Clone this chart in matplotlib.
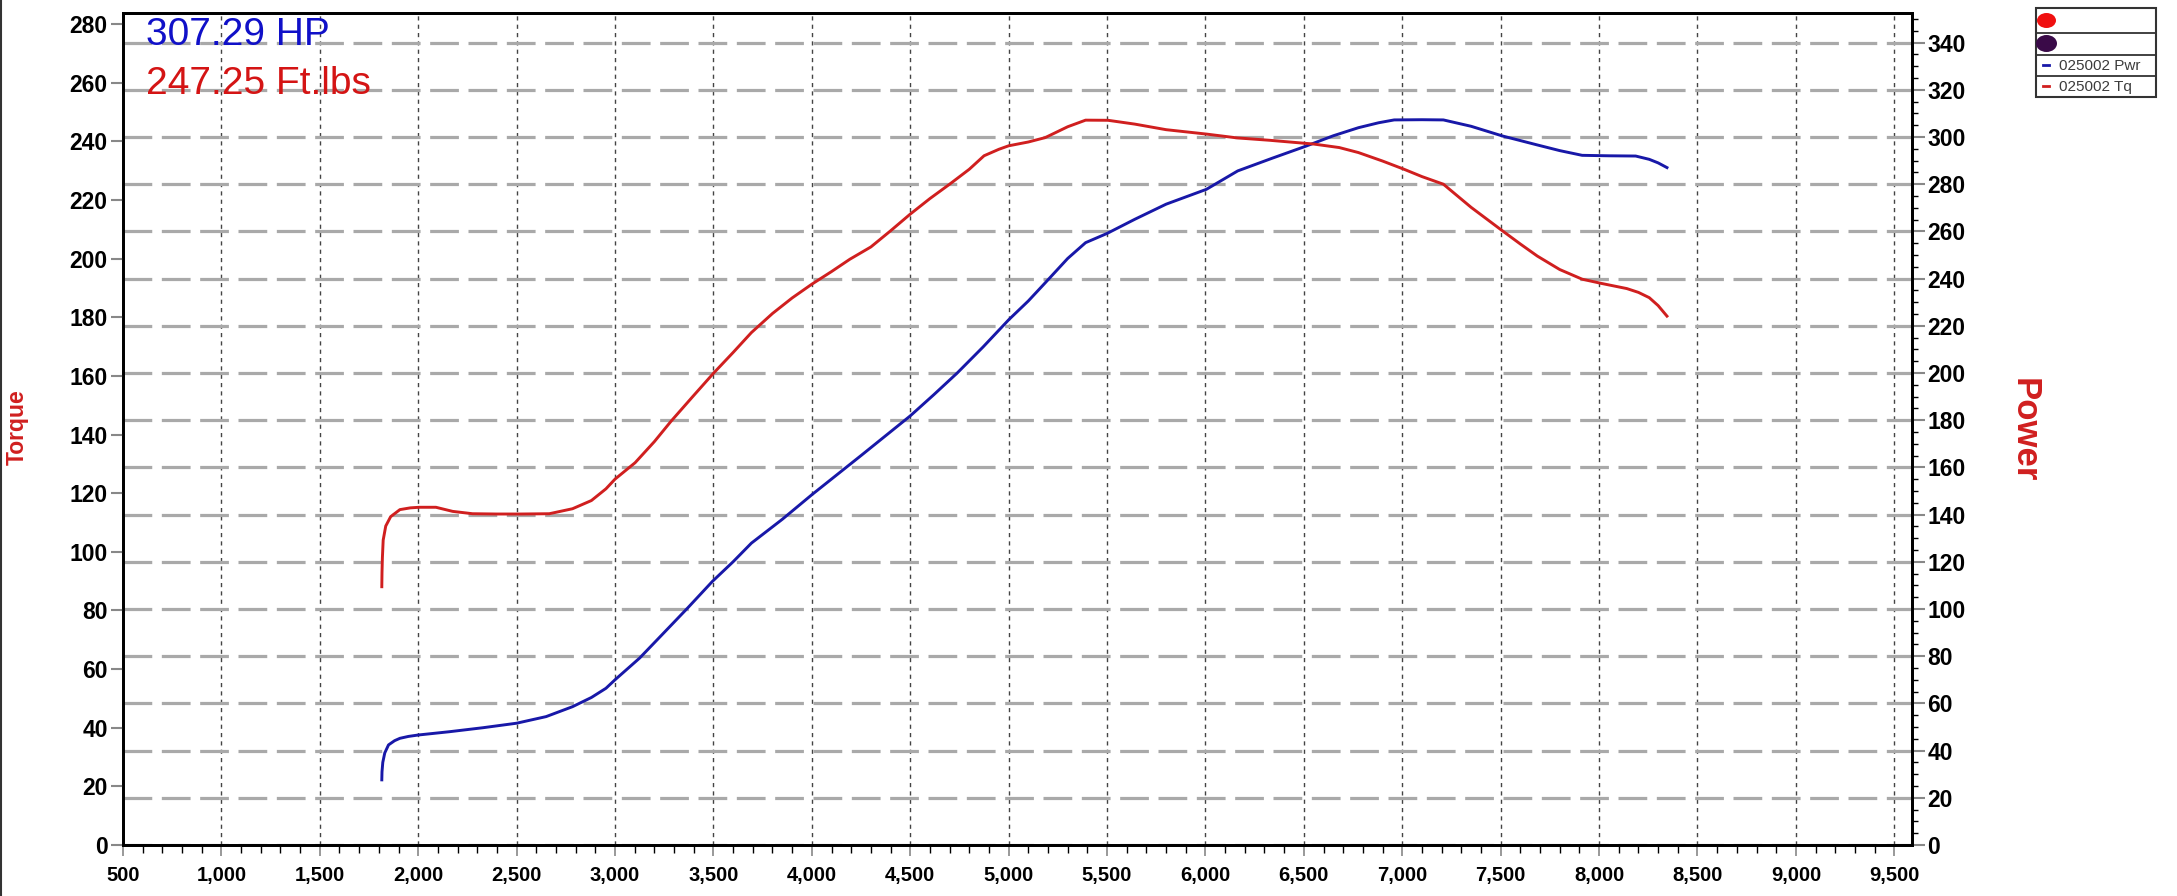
import matplotlib
matplotlib.use("Agg")
import matplotlib.pyplot as plt
from matplotlib.ticker import MultipleLocator, FuncFormatter
from matplotlib.patches import Rectangle, Ellipse
from matplotlib.lines import Line2D

# ---------------- data ----------------
tq_rpm = [1815, 1816, 1818, 1822, 1835, 1860, 1907, 1960, 2005, 2090, 2175, 2276,
          2400, 2520, 2666, 2784, 2880, 2954, 3000, 3102, 3200, 3284, 3398, 3500,
          3600, 3693, 3800, 3900, 4000, 4100, 4193, 4300, 4400, 4500, 4600, 4700,
          4800, 4875, 4950, 5000, 5100, 5186, 5300, 5391, 5505, 5641, 5800, 6005,
          6160, 6323, 6550, 6680, 6777, 6900, 7009, 7100, 7209, 7350, 7509, 7600,
          7686, 7800, 7914, 8009, 8141, 8200, 8255, 8300, 8345]
tq_val = [88.1, 93.0, 98.0, 104.0, 108.8, 112.0, 114.4, 115.0, 115.2, 115.2, 113.8, 113.0,
          112.9, 112.9, 113.0, 114.7, 117.5, 121.5, 124.8, 130.4, 137.6, 144.5, 153.2, 160.9,
          168.0, 174.8, 181.3, 186.6, 191.3, 195.6, 199.8, 204.0, 209.5, 215.2, 220.5, 225.4,
          230.5, 235.1, 237.3, 238.5, 239.8, 241.3, 245.0, 247.25, 247.2, 245.9, 244.0, 242.5,
          241.2, 240.4, 239.1, 237.9, 236.2, 233.3, 230.5, 228.0, 225.4, 217.5, 209.5, 205.0,
          200.9, 196.3, 193.0, 191.6, 189.8, 188.5, 186.7, 184.0, 180.4]

pw_rpm = [1815, 1816, 1820, 1830, 1849, 1880, 1907, 1950, 2000, 2159, 2330, 2500,
          2650, 2784, 2880, 2954, 3000, 3125, 3239, 3370, 3495, 3600, 3693, 3850,
          4000, 4250, 4500, 4620, 4739, 4870, 5000, 5100, 5186, 5300, 5391, 5500,
          5641, 5800, 6005, 6164, 6340, 6511, 6650, 6777, 6880, 6959, 7100, 7209,
          7350, 7509, 7686, 7800, 7914, 8050, 8186, 8255, 8300, 8345]
pw_val = [27.6, 31.0, 35.0, 39.0, 42.4, 44.2, 45.2, 46.0, 46.6, 48.0, 49.7, 51.6,
          54.4, 58.6, 62.5, 66.4, 70.0, 79.2, 89.1, 100.5, 111.7, 120.0, 127.9, 138.0,
          148.4, 165.0, 181.8, 190.8, 200.0, 211.0, 222.5, 230.5, 238.2, 248.5, 255.2, 259.1,
          265.1, 271.5, 277.8, 285.6, 291.0, 296.1, 300.5, 303.9, 306.0, 307.2, 307.29, 307.2,
          304.5, 300.4, 296.6, 294.2, 292.2, 292.0, 291.9, 290.5, 289.0, 287.0]

x_ticks = list(range(500, 10000, 500))
tq_ticks = list(range(0, 281, 20))
pw_ticks = list(range(0, 341, 20))

peak_hp_text = "307.29 HP"
peak_tq_text = "247.25 Ft.lbs"
legend_labels = ["025002 Pwr", "025002 Tq"]

RED = "#d01f1f"
BLUE = "#1818a8"
PURPLE = "#3a0a48"

tick_font = ["Liberation Sans", "DejaVu Sans"]
plt.rcParams["font.family"] = ["Liberation Sans", "DejaVu Sans"]

W, H = 2177, 896
fig = plt.figure(figsize=(W / 100, H / 100), dpi=100)
fig.patch.set_facecolor("white")

ax = fig.add_axes([123 / W, 1 - 845 / H, (1912 - 123) / W, (845 - 13) / H])
ax2 = ax.twinx()

# power on main axes (right ticks), torque on twin (left ticks)
ax.yaxis.tick_right()
ax.yaxis.set_label_position("right")
ax2.yaxis.tick_left()
ax2.yaxis.set_label_position("left")

ax.set_xlim(500, 9590)
ax.set_ylim(0, 352.5)
ax2.set_ylim(0, 283.8)

ax.set_xticks(x_ticks)
ax.xaxis.set_major_formatter(FuncFormatter(lambda v, p: f"{int(v):,}"))
ax.xaxis.set_minor_locator(MultipleLocator(100))
ax.set_yticks(pw_ticks)
ax.yaxis.set_minor_locator(MultipleLocator(5))
ax2.set_yticks(tq_ticks)

# grids
ax.set_axisbelow(True)
ax.grid(axis="x", which="major", color="#444444", lw=1.0, linestyle=(0, (3, 3)))
ax.grid(axis="y", which="major", color="#a9a9a9", lw=2.3, linestyle=(0, (9, 3)))

# curves
ax.plot(pw_rpm, pw_val, color=BLUE, lw=2.1, zorder=3)
ax2.plot(tq_rpm, tq_val, color=RED, lw=2.1, zorder=3)

# spines
for a in (ax, ax2):
    for s in a.spines.values():
        s.set_linewidth(2.0)
        s.set_color("black")

# tick styling
ax.tick_params(axis="x", which="major", direction="out", length=8, width=1.2,
               color="#888888", pad=7, labelsize=14.5)
ax.tick_params(axis="x", which="minor", direction="out", length=6, width=1.0, color="black")
ax.tick_params(axis="y", which="major", direction="out", length=9, width=1.5,
               color="#888888", pad=2, labelsize=16.5)
ax.tick_params(axis="y", which="minor", direction="out", length=4, width=1.0, color="black")
ax2.tick_params(axis="y", which="major", direction="out", length=9, width=1.5,
                color="#888888", pad=2, labelsize=16.5)

for lab in ax.get_xticklabels():
    lab.set_fontweight("bold")
    lab.set_family(tick_font)
for lab in ax.get_yticklabels() + ax2.get_yticklabels():
    lab.set_fontweight("bold")
    lab.set_family(tick_font)

# peak annotations
fig.text(146 / W, 1 - 45 / H, peak_hp_text, color="#1010c8", fontsize=28,
         ha="left", va="baseline")
fig.text(146 / W, 1 - 94 / H, peak_tq_text, color="#d41414", fontsize=28,
         ha="left", va="baseline")

# axis titles
fig.text(17 / W, 1 - 427 / H, "Torque", color=RED, fontsize=16.5, fontweight="bold",
         rotation=90, ha="center", va="center")
fig.text(2024 / W, 1 - 430 / H, "Power", color=RED, fontsize=25, fontweight="bold",
         rotation=270, ha="center", va="center")

# legend box (figure coordinates)
def fx(px):
    return px / W

def fy(py):
    return 1 - py / H

x0, x1 = 2036, 2156
rows = [8, 33, 55, 76, 97]
fig.patches.append(Rectangle((fx(x0), fy(rows[-1])), fx(x1) - fx(x0), fy(rows[0]) - fy(rows[-1]),
                             transform=fig.transFigure, facecolor="white",
                             edgecolor="#333333", lw=1.5))
for r in rows[1:-1]:
    fig.lines.append(Line2D([fx(x0), fx(x1)], [fy(r), fy(r)], transform=fig.transFigure,
                            color="#333333", lw=1.3))
fig.patches.append(Ellipse((fx(2046.5), fy(20.5)), 19 / W, 15 / H, transform=fig.transFigure,
                           facecolor="#f01010", edgecolor="none"))
fig.patches.append(Ellipse((fx(2046.5), fy(43.5)), 21 / W, 17 / H, transform=fig.transFigure,
                           facecolor=PURPLE, edgecolor="none"))
for r, col, lab in [(65.5, BLUE, legend_labels[0]), (86.5, RED, legend_labels[1])]:
    fig.lines.append(Line2D([fx(2043), fx(2049)], [fy(r), fy(r)], transform=fig.transFigure,
                            color=col, lw=2.0))
    fig.text(fx(2059), fy(r), lab, color="#3c3c3c", fontsize=11, ha="left", va="center")

# left image border line
fig.lines.append(Line2D([1 / W, 1 / W], [0, 1], transform=fig.transFigure, color="#333333", lw=1.5))

fig.savefig("out.png", dpi=100, facecolor="white")
